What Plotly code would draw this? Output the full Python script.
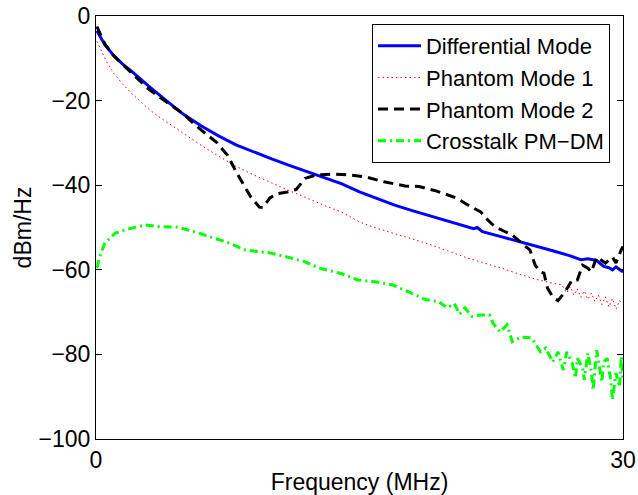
import plotly.graph_objects as go

# ---------------- data ----------------
f_dm = [0.05, 0.5, 1.0, 1.5, 2.0, 2.5, 3.0, 4.0, 5.0, 6.0, 7.0, 8.0, 9.0, 10.0,
        11.0, 12.0, 13.0, 14.0, 15.0, 16.0, 17.0, 18.0, 19.0, 20.0, 21.0, 21.5,
        21.7, 22.0, 23.0, 24.0, 25.0, 26.0, 27.0, 27.6, 28.0, 28.5, 28.9, 29.2,
        29.4, 29.6, 30.0]
dm = [-3.5, -6.8, -9.3, -11.3, -13.0, -14.9, -16.6, -20.0, -23.3, -26.0, -28.4,
      -30.5, -32.2, -33.8, -35.3, -36.8, -38.2, -39.7, -41.6, -43.2, -44.7,
      -46.0, -47.2, -48.4, -49.6, -50.3, -50.0, -51.0, -52.1, -53.2, -54.4,
      -55.5, -56.7, -57.6, -57.4, -57.8, -59.2, -59.5, -60.0, -59.3, -60.5]

f_pm1 = [0.05, 0.3, 0.6, 1.0, 1.5, 2.0, 3.0, 3.5, 4.0, 5.0, 6.0, 7.0, 8.0, 9.0,
         10.0, 11.0, 12.0, 13.0, 14.0, 15.0, 16.0, 17.0, 18.0, 19.0, 20.0, 21.0,
         22.0, 23.0, 24.0, 25.0, 26.0, 26.5, 26.8, 27.0, 27.2, 27.4, 27.6, 27.8,
         28.0, 28.2, 28.4, 28.6, 28.8, 29.0, 29.2, 29.4, 29.6, 29.8, 30.0]
pm1 = [-6.0, -8.3, -10.8, -13.5, -16.0, -18.2, -22.0, -23.6, -25.0, -27.9, -30.6,
       -33.2, -35.6, -37.6, -39.5, -41.3, -43.0, -44.8, -46.4, -48.7, -50.2,
       -51.4, -52.7, -54.0, -55.5, -57.0, -58.3, -59.5, -60.9, -62.2, -63.2,
       -63.5, -65.5, -64.0, -66.0, -64.5, -66.5, -65.0, -67.0, -65.5, -67.5,
       -66.0, -68.2, -66.4, -68.8, -66.8, -69.3, -67.3, -68.0]

f_pm2 = [0.05, 0.5, 1.0, 1.6, 2.1, 2.5, 3.0, 4.0, 5.0, 5.35, 6.0, 6.9, 7.5, 8.0,
         8.8, 9.3, 9.5, 9.9, 10.3, 10.9, 11.4, 11.9, 12.5, 13.5, 14.5, 15.4,
         16.4, 17.6, 18.4, 19.4, 20.5, 21.3, 21.9, 22.2, 22.7, 23.3, 23.7, 24.2,
         24.7, 25.0, 25.3, 25.5, 25.7, 26.0, 26.3, 26.7, 27.1, 27.4, 27.7, 28.0,
         28.2, 28.5, 29.0, 29.4, 29.6, 29.9, 30.0]
pm2 = [-2.5, -6.6, -9.4, -11.8, -13.7, -15.5, -17.3, -20.3, -23.2, -24.6, -27.0,
       -30.0, -33.0, -37.0, -42.7, -45.2, -45.3, -43.0, -42.0, -41.6, -41.0,
       -38.4, -37.6, -37.4, -37.6, -38.1, -39.2, -40.2, -40.3, -41.4, -43.0,
       -45.0, -46.3, -47.8, -49.8, -51.0, -51.8, -53.6, -55.3, -58.9, -60.5,
       -60.8, -64.3, -66.4, -67.3, -65.2, -62.4, -62.4, -58.9, -59.6, -60.5,
       -57.0, -58.4, -57.0, -58.4, -55.3, -54.5]

f_xt = [0.05, 0.1, 0.2, 0.5, 1.1, 1.8, 2.8, 3.6, 4.6, 5.6, 6.5, 7.6, 8.5, 9.9,
        10.9, 11.9, 12.7, 13.9, 14.9, 16.0, 16.9, 17.9, 18.8, 19.5, 20.0, 20.4,
        20.7, 21.0, 21.4, 21.9, 22.4, 22.6, 23.0, 23.4, 23.7, 24.2, 24.8, 25.3,
        25.6, 26.0, 26.3, 26.6, 26.8, 27.1, 27.3, 27.4, 27.7, 27.8, 28.0, 28.2,
        28.3, 28.5, 28.8, 28.9, 29.1, 29.3, 29.4, 29.6, 29.8, 29.9, 30.0]
xt = [-59.5, -58.9, -57.0, -53.7, -51.3, -50.4, -49.4, -49.8, -49.9, -51.0,
      -52.2, -53.7, -55.3, -56.0, -57.0, -58.1, -59.6, -60.8, -62.4, -62.9,
      -63.6, -65.5, -67.1, -67.5, -69.0, -68.0, -70.5, -69.0, -71.0, -70.7,
      -70.7, -72.6, -74.7, -73.0, -77.0, -75.9, -76.1, -79.4, -78.5, -81.8,
      -79.4, -83.7, -79.4, -82.0, -85.6, -80.9, -83.2, -86.0, -79.7, -84.1,
      -88.4, -79.0, -86.5, -81.8, -80.9, -86.0, -90.8, -84.4, -87.7, -80.5,
      -86.0]

x_ticks = [0, 30]
y_ticks = [0, -20, -40, -60, -80, -100]

FONT = "Liberation Sans, Arial, Helvetica, sans-serif"

fig = go.Figure()
fig.add_trace(go.Scatter(x=f_dm, y=dm, mode="lines", name="Differential Mode",
                         line=dict(color="#0000ff", width=3)))
fig.add_trace(go.Scatter(x=f_pm1, y=pm1, mode="lines", name="Phantom Mode 1",
                         line=dict(color="#ff0000", width=1, dash="1.5px,3px")))
fig.add_trace(go.Scatter(x=f_pm2, y=pm2, mode="lines", name="Phantom Mode 2",
                         line=dict(color="#000000", width=3, dash="10px,6px")))
fig.add_trace(go.Scatter(x=f_xt, y=xt, mode="lines", name="Crosstalk PM\u2212DM",
                         line=dict(color="#00ff00", width=3, dash="8px,4px,2px,4px")))

axis_common = dict(showgrid=False, zeroline=False, showline=True, linecolor="black",
                   linewidth=1, mirror="ticks", ticks="inside", ticklen=6,
                   tickcolor="black", tickfont=dict(size=23, color="black", family=FONT),
                   automargin=False)

fig.update_layout(
    width=638, height=495,
    margin=dict(l=96, r=15, t=16, b=56),
    paper_bgcolor="white", plot_bgcolor="white",
    font=dict(family=FONT, size=23, color="black"),
    xaxis=dict(range=[0, 30], tickvals=x_ticks, ticktext=[str(v) for v in x_ticks],
               title=dict(text="Frequency (MHz)", font=dict(size=23), standoff=2),
               **axis_common),
    yaxis=dict(range=[-100, 0], tickvals=y_ticks,
               title=dict(text="dBm/Hz", font=dict(size=23), standoff=0),
               **axis_common),
    legend=dict(x=0.9753, y=0.981, xanchor="right", yanchor="top",
                bgcolor="white", bordercolor="black", borderwidth=1,
                font=dict(size=22, family=FONT, color="black"),
                itemwidth=43, tracegroupgap=0),
    showlegend=True,
)

fig.write_html("out.html",
               config={"displayModeBar": False},
               post_script="document.body.style.margin='0px';document.body.style.padding='0px';")
